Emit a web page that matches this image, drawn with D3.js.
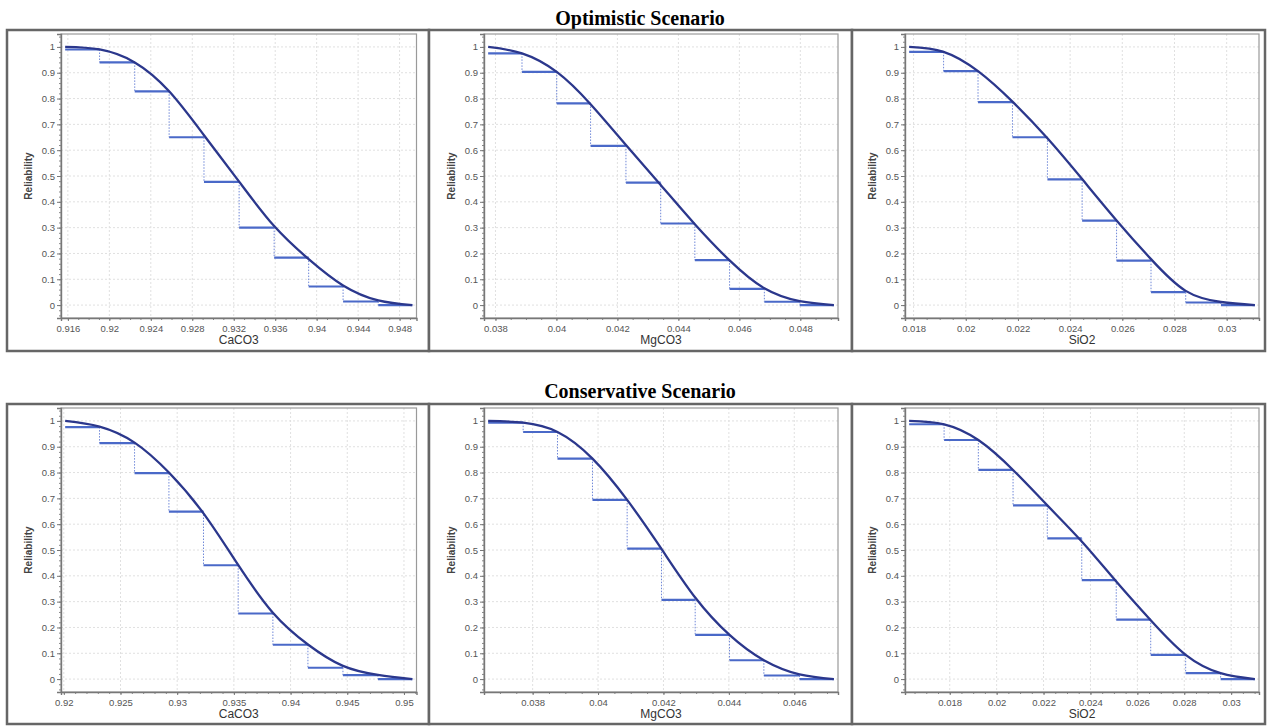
<!DOCTYPE html>
<html>
<head>
<meta charset="utf-8">
<script src="https://cdn.jsdelivr.net/npm/d3@7"></script>
<style>
    body { margin: 0; background: #fff; }
</style>
</head>
<body>
<div id="chart"></div>
<script>

// Data
// *Edges: bin edges, *Rel: empirical reliability (step levels), *Fit: fitted curve at the same edges

const caco3OptEdges = [0.91574, 0.91906, 0.92245, 0.92577, 0.92913, 0.93252, 0.93590, 0.93923, 0.94255, 0.94594, 0.94923];
const caco3OptRel   = [1.0, 0.99, 0.94, 0.828, 0.65, 0.477, 0.30, 0.184, 0.072, 0.014, 0.0];
const caco3OptFit   = [1.0, 0.990, 0.940, 0.828, 0.658, 0.478, 0.306, 0.178, 0.076, 0.018, 0.0];
const caco3OptTicks = [0.916, 0.92, 0.924, 0.928, 0.932, 0.936, 0.94, 0.944, 0.948];

const mgco3OptEdges = [0.03776, 0.03887, 0.04001, 0.04112, 0.04228, 0.04342, 0.04454, 0.04568, 0.04682, 0.04798, 0.04910];
const mgco3OptRel   = [1.0, 0.975, 0.903, 0.781, 0.617, 0.474, 0.316, 0.174, 0.063, 0.013, 0.0];
const mgco3OptFit   = [1.0, 0.975, 0.903, 0.778, 0.620, 0.465, 0.313, 0.173, 0.065, 0.015, 0.0];
const mgco3OptTicks = [0.038, 0.04, 0.042, 0.044, 0.046, 0.048];

const sio2OptEdges  = [0.01783, 0.01915, 0.02047, 0.02179, 0.02313, 0.02446, 0.02578, 0.02710, 0.02843, 0.02978, 0.03108];
const sio2OptRel    = [1.0, 0.981, 0.906, 0.786, 0.650, 0.487, 0.327, 0.172, 0.050, 0.010, 0.0];
const sio2OptFit    = [1.0, 0.981, 0.906, 0.788, 0.646, 0.488, 0.328, 0.178, 0.055, 0.012, 0.0];
const sio2OptTicks  = [0.018, 0.02, 0.022, 0.024, 0.026, 0.028, 0.03];

const caco3ConEdges = [0.92012, 0.92315, 0.92624, 0.92927, 0.93232, 0.93538, 0.93844, 0.94153, 0.94462, 0.94771, 0.95074];
const caco3ConRel   = [1.0, 0.976, 0.914, 0.798, 0.649, 0.441, 0.254, 0.133, 0.044, 0.015, 0.0];
const caco3ConFit   = [1.0, 0.978, 0.916, 0.800, 0.642, 0.442, 0.257, 0.134, 0.051, 0.016, 0.0];
const caco3ConTicks = [0.92, 0.925, 0.93, 0.935, 0.94, 0.945, 0.95];

const mgco3ConEdges = [0.03664, 0.03771, 0.03876, 0.03983, 0.04089, 0.04194, 0.04297, 0.04402, 0.04507, 0.04616, 0.04721];
const mgco3ConRel   = [1.0, 0.993, 0.957, 0.854, 0.694, 0.505, 0.307, 0.171, 0.073, 0.014, 0.0];
const mgco3ConFit   = [1.0, 0.993, 0.957, 0.854, 0.694, 0.504, 0.316, 0.171, 0.073, 0.018, 0.0];
const mgco3ConTicks = [0.038, 0.04, 0.042, 0.044, 0.046];

const sio2ConEdges  = [0.01627, 0.01776, 0.01922, 0.02070, 0.02216, 0.02363, 0.02510, 0.02657, 0.02806, 0.02955, 0.03101];
const sio2ConRel    = [1.0, 0.987, 0.926, 0.810, 0.673, 0.545, 0.383, 0.230, 0.094, 0.023, 0.0];
const sio2ConFit    = [1.0, 0.987, 0.926, 0.810, 0.673, 0.533, 0.378, 0.228, 0.094, 0.023, 0.0];
const sio2ConTicks  = [0.018, 0.02, 0.022, 0.024, 0.026, 0.028, 0.03];

const relTicks = [0, 0.1, 0.2, 0.3, 0.4, 0.5, 0.6, 0.7, 0.8, 0.9, 1];
const scenarioTitles = ["Optimistic Scenario", "Conservative Scenario"];

const panels = [
    {edges: caco3OptEdges, rel: caco3OptRel, fit: caco3OptFit, ticks: caco3OptTicks, label: "CaCO3", row: 0, col: 0},
    {edges: mgco3OptEdges, rel: mgco3OptRel, fit: mgco3OptFit, ticks: mgco3OptTicks, label: "MgCO3", row: 0, col: 1},
    {edges: sio2OptEdges,  rel: sio2OptRel,  fit: sio2OptFit,  ticks: sio2OptTicks,  label: "SiO2",  row: 0, col: 2},
    {edges: caco3ConEdges, rel: caco3ConRel, fit: caco3ConFit, ticks: caco3ConTicks, label: "CaCO3", row: 1, col: 0},
    {edges: mgco3ConEdges, rel: mgco3ConRel, fit: mgco3ConFit, ticks: mgco3ConTicks, label: "MgCO3", row: 1, col: 1},
    {edges: sio2ConEdges,  rel: sio2ConRel,  fit: sio2ConFit,  ticks: sio2ConTicks,  label: "SiO2",  row: 1, col: 2}
];

// Layout

const frameX = [7, 429, 852, 1265],                                  // panel frame edges
      frameTop = [30, 404], frameBottom = [351, 724],
      plotLeft = [61, 484, 905], plotRight = [416.5, 838, 1259],     // inner plot box
      plotTop = [34, 408], plotBottom = [318, 692],
      titleY = [25, 398];

const svg = d3.select("#chart").append("svg")
    .attr("width", 1272)
    .attr("height", 726)
    .style("font-family", "'Liberation Sans', Arial, sans-serif");

svg.selectAll(".title")
    .data(scenarioTitles)
    .enter()
    .append("text")
        .attr("class", "title")
        .attr("x", 640)
        .attr("y", (d, i) => titleY[i])
        .attr("text-anchor", "middle")
        .style("font-family", "'Liberation Serif', 'Times New Roman', serif")
        .style("font-weight", "bold")
        .style("font-size", "20px")
        .attr("fill", "#000")
        .text(d => d);

panels.forEach(p => {
    const g = svg.append("g");

    // Frame
    g.append("rect")
        .attr("x", frameX[p.col])
        .attr("y", frameTop[p.row])
        .attr("width", frameX[p.col + 1] - frameX[p.col])
        .attr("height", frameBottom[p.row] - frameTop[p.row])
        .attr("fill", "#fff")
        .attr("stroke", "#666")
        .attr("stroke-width", 2.5);

    // Scales
    const ext = d3.extent(p.edges),
          pad = (ext[1] - ext[0]) * 0.012;
    const x = d3.scaleLinear().domain([ext[0] - pad, ext[1] + pad]).range([plotLeft[p.col], plotRight[p.col]]);
    const y = d3.scaleLinear().domain([-0.05, 1.05]).range([plotBottom[p.row], plotTop[p.row]]);

    const L = plotLeft[p.col], R = plotRight[p.col], T = plotTop[p.row], B = plotBottom[p.row];

    // Gridlines
    g.selectAll(".gx").data(p.ticks).enter().append("line")
        .attr("x1", d => x(d)).attr("x2", d => x(d))
        .attr("y1", T).attr("y2", B)
        .attr("stroke", "#e0e0e0").attr("stroke-width", 1).attr("stroke-dasharray", "2,2");
    g.selectAll(".gy").data(relTicks).enter().append("line")
        .attr("x1", L).attr("x2", R)
        .attr("y1", d => y(d)).attr("y2", d => y(d))
        .attr("stroke", "#e0e0e0").attr("stroke-width", 1).attr("stroke-dasharray", "2,2");

    // Plot box
    g.append("rect")
        .attr("x", L).attr("y", T)
        .attr("width", R - L).attr("height", B - T)
        .attr("fill", "none")
        .attr("stroke", "#9a9a9a")
        .attr("stroke-width", 1.2);

    // Minor ticks
    g.append("g")
        .attr("transform", "translate(0," + B + ")")
        .call(d3.axisBottom(x).tickValues(x.ticks(30)).tickSize(2).tickFormat(""))
        .call(a => a.select(".domain").remove())
        .selectAll("line").attr("stroke", "#888");
    g.append("g")
        .attr("transform", "translate(" + L + ",0)")
        .call(d3.axisLeft(y).tickValues(y.ticks(50)).tickSize(2).tickFormat(""))
        .call(a => a.select(".domain").remove())
        .selectAll("line").attr("stroke", "#888");

    // Major axes
    const xAxis = g.append("g")
        .attr("transform", "translate(0," + B + ")")
        .call(d3.axisBottom(x).tickValues(p.ticks).tickSize(3).tickPadding(4).tickFormat(d3.format("~g")));
    const yAxis = g.append("g")
        .attr("transform", "translate(" + L + ",0)")
        .call(d3.axisLeft(y).tickValues(relTicks).tickSize(4).tickPadding(2).tickFormat(d3.format("~g")));
    [xAxis, yAxis].forEach(a => {
        a.select(".domain").attr("stroke", "#777").attr("stroke-width", 1.4);
        a.selectAll(".tick line").attr("stroke", "#777");
        a.selectAll(".tick text")
            .attr("fill", "#555")
            .style("font-family", "'Liberation Sans', Arial, sans-serif")
            .style("font-size", "9.5px");
    });

    // Step segments (solid horizontals, dotted verticals)
    const steps = d3.range(1, p.edges.length);
    g.selectAll(".step").data(steps).enter().append("line")
        .attr("x1", k => x(p.edges[k - 1]))
        .attr("x2", k => x(p.edges[k]))
        .attr("y1", k => y(p.rel[k]))
        .attr("y2", k => y(p.rel[k]))
        .attr("stroke", "#4a69c8")
        .attr("stroke-width", 2.2);
    g.selectAll(".drop").data(steps.slice(0, -1)).enter().append("line")
        .attr("x1", k => x(p.edges[k]))
        .attr("x2", k => x(p.edges[k]))
        .attr("y1", k => y(p.rel[k]))
        .attr("y2", k => y(p.rel[k + 1]))
        .attr("stroke", "#7088d8")
        .attr("stroke-width", 1)
        .attr("stroke-dasharray", "1.5,1.5");

    // Fitted reliability curve
    const line = d3.line()
        .x((d, i) => x(p.edges[i]))
        .y(d => y(d))
        .curve(d3.curveNatural);
    g.append("path")
        .attr("d", line(p.fit))
        .attr("fill", "none")
        .attr("stroke", "#2b378c")
        .attr("stroke-width", 2.3);

    // Axis titles
    g.append("text")
        .attr("x", (L + R) / 2)
        .attr("y", B + 26)
        .attr("text-anchor", "middle")
        .attr("fill", "#333")
        .style("font-size", "12px")
        .text(p.label);
    g.append("text")
        .attr("transform", "translate(" + (L - 29) + "," + ((T + B) / 2) + ") rotate(-90)")
        .attr("text-anchor", "middle")
        .attr("fill", "#444")
        .style("font-size", "10px")
        .style("font-weight", "bold")
        .text("Reliability");
});

</script>
</body>
</html>
